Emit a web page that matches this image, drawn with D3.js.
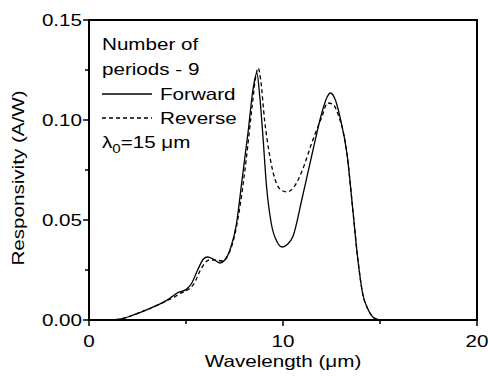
<!DOCTYPE html>
<html>
<head>
<meta charset="utf-8">
<script src="https://cdnjs.cloudflare.com/ajax/libs/d3/7.8.5/d3.min.js"></script>
<style>
  body { margin: 0; background: #fff; }
  text { font-family: "Liberation Sans", Arial, sans-serif; fill: #000; }
</style>
</head>
<body>
<svg id="chart"></svg>
<script>
// values (wavelength in um, responsivity in A/W)
const fwdWave = [1.0, 1.5, 2.0, 2.5, 3.0, 3.5, 4.0, 4.3, 4.6, 5.0, 5.3, 5.6, 5.9, 6.1, 6.4, 6.75, 7.0, 7.3, 7.6, 7.9, 8.2, 8.45, 8.65, 8.8, 8.95, 9.15, 9.4, 9.7, 9.95, 10.25, 10.5, 11.0, 11.5, 12.0, 12.25, 12.45, 12.7, 12.95, 13.3, 13.6, 13.85, 14.1, 14.4, 14.7, 15.0]
const fwdResp = [0, 0.0003, 0.0015, 0.0033, 0.0052, 0.0073, 0.0098, 0.0118, 0.0138, 0.0152, 0.0185, 0.025, 0.0305, 0.0315, 0.0305, 0.0285, 0.030, 0.036, 0.048, 0.071, 0.094, 0.115, 0.1235, 0.112, 0.094, 0.067, 0.048, 0.039, 0.0365, 0.038, 0.0415, 0.0615, 0.083, 0.1035, 0.111, 0.1135, 0.110, 0.101, 0.083, 0.055, 0.031, 0.0135, 0.005, 0.001, 0]
const revWave = [1.0, 1.5, 2.0, 2.5, 3.0, 3.5, 4.0, 4.4, 4.7, 5.0, 5.4, 5.8, 6.2, 6.5, 6.9, 7.2, 7.5, 7.8, 8.1, 8.4, 8.6, 8.72, 8.85, 9.05, 9.3, 9.6, 9.9, 10.2, 10.6, 11.0, 11.5, 12.0, 12.3, 12.55, 12.85, 13.3, 13.6, 13.85, 14.1, 14.4, 14.7, 15.0]
const revResp = [0, 0.0003, 0.0015, 0.0033, 0.0052, 0.0073, 0.0096, 0.0115, 0.0133, 0.0145, 0.018, 0.026, 0.030, 0.030, 0.0295, 0.033, 0.042, 0.058, 0.080, 0.106, 0.122, 0.126, 0.120, 0.100, 0.083, 0.070, 0.065, 0.064, 0.067, 0.075, 0.089, 0.1015, 0.1085, 0.108, 0.1025, 0.083, 0.055, 0.031, 0.0135, 0.005, 0.001, 0]
const xMajor = [0, 10, 20]
const xMinor = [5, 15]
const yMajor = [0, 0.05, 0.10, 0.15]
const yMinor = [0.025, 0.075, 0.125]

const W = 488, H = 378
const margin = {top: 20, right: 11, bottom: 58, left: 89}
const width = W - margin.left - margin.right,
      height = H - margin.top - margin.bottom
const stretch = 1.25 // the original lettering is wide

let svg = d3.select("#chart").attr("width", W).attr("height", H)
let chart = svg.append("g")
    .attr("transform", "translate(" + margin.left + "," + margin.top + ")")

let x = d3.scaleLinear().domain([0, 20]).range([0, width])
let y = d3.scaleLinear().domain([0, 0.15]).range([height, 0])

// wide text helper: anchored at (px,py), stretched along the reading direction
function wideText(parent, px, py, str, anchor, rot) {
  let g = parent.append("g")
      .attr("transform", "translate(" + px + "," + py + ")" + (rot ? " rotate(" + rot + ")" : ""))
  return g.append("text")
      .attr("transform", "scale(" + stretch + ",1)")
      .attr("text-anchor", anchor || "start")
      .style("font-size", "16.5px")
      .text(str)
}

// curves
let line = (xs, ys) => d3.line()
    .x((d, i) => x(xs[i]))
    .y(d => y(d))
    .curve(d3.curveMonotoneX)(ys)

chart.append("path")
    .attr("d", line(revWave, revResp))
    .attr("fill", "none").attr("stroke", "#000").attr("stroke-width", 1.3)
    .attr("stroke-dasharray", "4,3")
chart.append("path")
    .attr("d", line(fwdWave, fwdResp))
    .attr("fill", "none").attr("stroke", "#000").attr("stroke-width", 1.3)

// frame
chart.append("rect")
    .attr("width", width).attr("height", height)
    .attr("fill", "none").attr("stroke", "#000").attr("stroke-width", 2)

// ticks
let xAxis = chart.append("g").attr("transform", "translate(0," + height + ")")
xMajor.forEach(v => xAxis.append("line").attr("x1", x(v)).attr("x2", x(v)).attr("y1", 0).attr("y2", 6).attr("stroke", "#000").attr("stroke-width", 1.5))
xMinor.forEach(v => xAxis.append("line").attr("x1", x(v)).attr("x2", x(v)).attr("y1", 0).attr("y2", 4).attr("stroke", "#000").attr("stroke-width", 1.5))
xMajor.forEach(v => wideText(xAxis, x(v), 27, d3.format("d")(v), "middle"))

let yAxis = chart.append("g")
yMajor.forEach(v => yAxis.append("line").attr("x1", -6).attr("x2", 0).attr("y1", y(v)).attr("y2", y(v)).attr("stroke", "#000").attr("stroke-width", 1.5))
yMinor.forEach(v => yAxis.append("line").attr("x1", -4).attr("x2", 0).attr("y1", y(v)).attr("y2", y(v)).attr("stroke", "#000").attr("stroke-width", 1.5))
yMajor.forEach(v => wideText(yAxis, -7, y(v) + 5.5, d3.format(".2f")(v), "end"))

// axis titles
wideText(svg, 283, 367, "Wavelength (\u03bcm)", "middle")
wideText(svg, 24, 178, "Responsivity (A/W)", "middle", -90)

// legend
wideText(svg, 102, 50, "Number of")
wideText(svg, 102, 75, "periods - 9")
svg.append("line").attr("x1", 102).attr("x2", 152).attr("y1", 94).attr("y2", 94)
    .attr("stroke", "#000").attr("stroke-width", 1.3)
wideText(svg, 160, 100, "Forward")
svg.append("line").attr("x1", 102).attr("x2", 152).attr("y1", 118).attr("y2", 118)
    .attr("stroke", "#000").attr("stroke-width", 1.3).attr("stroke-dasharray", "4,3")
wideText(svg, 160, 124, "Reverse")
let lam = wideText(svg, 102, 148, "\u03bb")
lam.append("tspan").attr("dy", 5).style("font-size", "12px").text("0")
lam.append("tspan").attr("dy", -5).text("=15 \u03bcm")
</script>
</body>
</html>
